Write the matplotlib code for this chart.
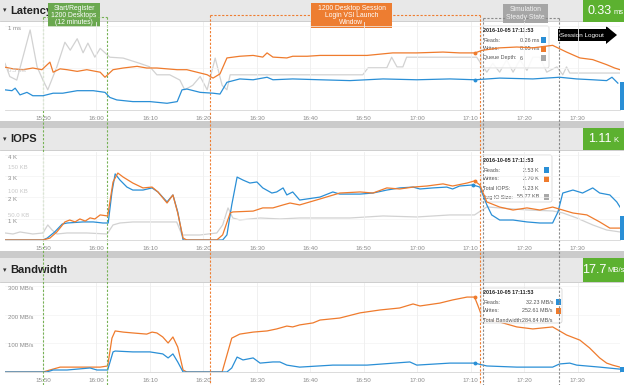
import numpy as np
import matplotlib
matplotlib.use('Agg')
import matplotlib.pyplot as plt
import matplotlib.transforms as mtransforms
from matplotlib.patches import Rectangle, FancyBboxPatch, Polygon

plt.rcParams['font.family'] = ['Liberation Sans Narrow', 'Liberation Sans', 'DejaVu Sans']

W, H = 624, 385

# time axis in minutes after 15:40
tick_minutes = [10, 20, 30, 40, 50, 60, 70, 80, 90, 100, 110]
tick_labels = ['15:50', '16:00', '16:10', '16:20', '16:30', '16:40', '16:50', '17:00', '17:10', '17:20', '17:30']
t_start, t_end = 2.9, 117.9

# Latency (ms) and queue depth
lat_read_t = [2.9, 4.2, 4.8, 5.7, 7.0, 8.1, 10.0, 11.9, 13.7, 16.4, 19.4, 21.6, 22.5, 23.8, 26.8,
              30.0, 33.2, 35.1, 36.0, 36.9, 39.4, 41.8, 43.1, 44.4, 46.8, 49.3, 51.9, 53.0, 56.7, 61.8,
              67.4, 73.6, 79.9, 86.1, 90.8, 95.4, 101.6, 106.6, 109.8, 112.8, 115.4, 116.4, 117.5]
lat_read = [0.24, 0.23, 0.26, 0.18, 0.21, 0.17, 0.17, 0.20, 0.20, 0.23, 0.23, 0.21, 0.15, 0.12, 0.10,
            0.10, 0.08, 0.10, 0.24, 0.25, 0.21, 0.20, 0.19, 0.33, 0.37, 0.36, 0.39, 0.36, 0.37, 0.36,
            0.35, 0.37, 0.36, 0.37, 0.36, 0.38, 0.37, 0.39, 0.37, 0.36, 0.35, 0.39, 0.32]
lat_write_t = [2.9, 4.4, 6.3, 8.1, 9.8, 11.3, 11.9, 13.2, 14.5, 16.4, 18.2, 20.7, 21.6, 23.1, 25.0,
               27.6, 29.4, 31.3, 33.2, 35.1, 36.9, 38.8, 40.7, 41.8, 43.1, 44.4, 46.8, 49.3, 51.1, 51.9,
               53.0, 55.6, 56.7, 59.4, 61.8, 65.5, 70.6, 75.4, 79.9, 84.8, 87.9, 90.8, 92.1, 95.4, 98.6,
               101.6, 105.3, 107.9, 110.4, 112.8, 114.1, 115.4, 116.9, 117.9]
lat_write = [0.51, 0.49, 0.48, 0.50, 0.48, 0.57, 0.45, 0.49, 0.48, 0.46, 0.48, 0.45, 0.39, 0.48, 0.50,
             0.52, 0.50, 0.50, 0.49, 0.48, 0.48, 0.45, 0.42, 0.38, 0.43, 0.62, 0.64, 0.65, 0.63, 0.68,
             0.63, 0.62, 0.64, 0.64, 0.65, 0.65, 0.65, 0.68, 0.68, 0.69, 0.68, 0.68, 0.71, 0.74, 0.75,
             0.74, 0.77, 0.69, 0.62, 0.60, 0.57, 0.54, 0.50, 0.48]
qd_t = [2.9, 3.8, 5.1, 6.6, 7.6, 8.9, 10.0, 10.9, 12.6, 14.1, 15.1, 16.4, 17.5, 18.4, 19.7,
        20.7, 21.6, 22.5, 25.0, 28.1, 30.0, 31.3, 33.7, 35.6, 36.5, 38.0, 39.4, 40.7, 42.2, 43.5,
        44.4, 45.0, 69.8, 70.8, 74.3, 75.2, 76.2, 77.3, 78.0, 91.1, 93.0, 94.1, 95.4, 96.7, 97.9,
        99.2, 100.5, 101.6, 102.9, 104.2, 106.1, 107.2, 107.9, 108.5, 117.9]
qd = [5.3, 3.8, 3.4, 6.8, 9.1, 4.9, 3.4, 2.3, 4.9, 7.7, 6.8, 8.1, 6.5, 7.6, 6.0,
      7.0, 6.5, 6.0, 5.9, 5.3, 4.9, 4.0, 4.0, 3.4, 2.3, 2.8, 3.8, 2.3, 5.9, 2.8,
      2.3, 4.0, 4.0, 4.8, 4.8, 6.0, 4.9, 4.9, 6.0, 6.0, 4.3, 5.3, 4.3, 5.7, 4.3,
      5.7, 4.5, 6.0, 6.0, 4.3, 4.9, 4.0, 4.9, 4.2, 4.2]

# IOPS (K) and average IO size (KB)
iops_read_t = [2.9, 10.0, 10.8, 12.2, 13.6, 14.5, 17.5, 19.4, 21.2, 22.2, 22.9, 23.5, 24.4, 25.7, 26.8,
               28.7, 30.4, 31.5, 33.2, 34.3, 35.2, 36.2, 43.6, 44.4, 45.3, 46.3, 47.4, 48.7, 50.0, 51.1,
               52.8, 53.7, 54.9, 55.6, 56.7, 58.0, 61.8, 64.2, 65.5, 69.3, 71.7, 74.3, 76.7, 79.2, 80.5,
               82.9, 85.5, 86.6, 87.9, 90.4, 91.7, 93.0, 93.9, 95.4, 97.9, 100.5, 102.9, 105.3, 106.3, 107.2,
               109.1, 110.9, 112.8, 114.1, 116.0, 117.3, 117.9]
iops_read = [0.00, 0.00, 0.09, 0.38, 0.75, 0.80, 0.85, 0.85, 0.80, 0.80, 2.26, 3.11, 2.82, 2.49, 2.35,
             2.35, 2.45, 2.26, 1.79, 2.12, 1.32, 0.00, 0.00, 0.24, 1.65, 2.96, 2.82, 2.68, 2.73, 2.45,
             2.21, 2.26, 2.45, 2.12, 2.26, 1.88, 2.02, 2.26, 2.16, 2.16, 2.21, 2.35, 2.45, 2.49, 2.40,
             2.45, 2.49, 2.40, 2.54, 2.59, 2.49, 1.65, 1.18, 0.94, 0.94, 0.85, 0.80, 0.80, 1.32, 2.21,
             2.35, 2.21, 2.45, 2.21, 2.12, 1.79, 1.55]
iops_write_t = [2.9, 10.0, 11.3, 12.6, 14.1, 15.0, 16.0, 16.9, 17.9, 18.8, 19.7, 20.7, 22.1, 23.1, 24.0,
                25.0, 26.8, 28.7, 30.4, 31.5, 33.2, 34.3, 35.2, 36.2, 36.9, 42.5, 43.6, 45.0, 45.5, 49.3,
                51.1, 53.0, 54.9, 56.2, 58.0, 61.8, 65.5, 69.3, 71.7, 74.3, 76.7, 79.2, 81.8, 84.8, 86.6,
                89.3, 90.7, 91.7, 93.0, 95.4, 97.9, 100.5, 102.9, 105.3, 107.2, 109.1, 111.7, 114.1, 116.0, 117.9]
iops_write = [0.00, 0.00, 0.09, 0.38, 0.85, 0.94, 0.85, 0.99, 0.89, 1.04, 0.99, 1.18, 1.13, 2.73, 3.15,
              2.96, 2.68, 2.45, 2.49, 2.26, 1.74, 2.12, 1.27, 0.09, 0.00, 0.00, 0.24, 1.27, 1.32, 1.36,
              1.51, 1.51, 1.65, 1.74, 1.65, 1.93, 2.21, 2.26, 2.21, 2.45, 2.40, 2.49, 2.54, 2.64, 2.54,
              2.68, 2.78, 2.59, 1.79, 1.55, 1.41, 1.51, 1.41, 1.55, 1.41, 1.27, 1.18, 0.85, 0.56, 0.56]
io_size_t = [2.9, 4.4, 5.7, 8.1, 10.0, 10.9, 11.7, 12.6, 14.5, 18.2, 22.0, 23.1, 24.4, 26.8, 33.2,
             35.0, 36.0, 39.3, 42.5, 43.6, 44.6, 45.5, 46.8, 50.6, 54.3, 58.0, 61.8, 67.4, 73.6, 79.9,
             86.1, 90.7, 93.0, 95.4, 100.5, 105.3, 107.2, 109.8, 112.8, 115.4, 117.9]
io_size = [14.6, 12.5, 16.7, 12.5, 14.6, 31.3, 20.8, 12.5, 14.6, 14.6, 12.5, 31.3, 35.4, 37.5, 37.5,
           37.5, 10.4, 10.4, 14.6, 31.3, 66.7, 45.8, 41.7, 45.8, 43.8, 45.8, 45.8, 45.8, 50.0, 47.9,
           52.1, 52.1, 68.8, 66.7, 62.5, 60.4, 56.3, 45.8, 31.3, 20.8, 16.7]

# Bandwidth (MB/s)
bw_read_t = [2.9, 10.7, 11.9, 14.5, 18.8, 20.1, 22.1, 23.1, 23.5, 26.8, 30.0, 32.4, 33.4, 34.3, 35.2,
             36.2, 44.4, 45.3, 46.3, 47.4, 49.3, 50.6, 53.0, 54.3, 55.6, 58.0, 64.2, 70.6, 78.6, 79.9,
             86.1, 90.7, 93.0, 98.6, 105.3, 106.6, 108.5, 109.8, 114.1, 117.9]
bw_read = [0, 0, 7, 7, 14, 7, 7, 70, 73, 70, 70, 63, 49, 63, 35,
           0, 0, 14, 52, 42, 49, 31, 35, 35, 24, 17, 24, 24, 35, 24,
           31, 31, 21, 17, 17, 28, 31, 24, 17, 10]
bw_write_t = [2.9, 10.0, 11.3, 13.2, 15.6, 18.2, 20.7, 22.1, 22.9, 23.5, 25.0, 26.8, 29.4, 30.4, 31.3,
              32.4, 33.4, 34.3, 35.2, 36.2, 36.9, 43.5, 44.4, 45.3, 46.8, 49.3, 51.9, 53.7, 55.6, 56.7,
              58.0, 60.5, 61.8, 65.5, 69.3, 73.0, 76.7, 79.2, 80.5, 84.2, 86.6, 89.3, 90.7, 91.3, 92.2,
              95.4, 98.6, 101.6, 105.3, 107.9, 110.4, 112.2, 114.1, 115.4, 116.5, 117.9]
bw_write = [0, 0, 7, 17, 17, 17, 17, 21, 118, 143, 139, 136, 132, 139, 136,
            122, 101, 122, 87, 7, 0, 0, 59, 118, 132, 139, 143, 150, 160, 157,
            164, 171, 181, 188, 206, 216, 223, 237, 230, 240, 251, 261, 261, 233, 188,
            174, 157, 150, 157, 129, 111, 84, 49, 31, 24, 17]

current_values = [0.33, 1.11, 17.7]
current_units = ['ms', 'K', 'MB/s']
hover_time = 90.75

BLUE = '#2a8fd6'
ORANGE = '#ef7b2d'
LGREY = '#d2d2d2'


def fig_rect(x0, y0, x1, y1):
    return [x0 / W, 1 - y1 / H, (x1 - x0) / W, (y1 - y0) / H]


def px(t):
    return 5 + (t - t_start) / (t_end - t_start) * 615


fig = plt.figure(figsize=(W / 100, H / 100), dpi=100, facecolor='white')

# background: header strips and separators
bg = fig.add_axes([0, 0, 1, 1])
bg.set_xlim(0, W)
bg.set_ylim(H, 0)
bg.axis('off')
for y0, h in [(0, 21), (128, 22), (258, 24)]:
    bg.add_patch(Rectangle((0, y0), W, h, fc='#e8e8e8', ec='none'))
    bg.plot([0, W], [y0 + h, y0 + h], color='#c6c6c6', lw=0.6)
for y0 in [121, 251]:
    bg.add_patch(Rectangle((0, y0), W, 7, fc='#cbcbcb', ec='none'))
for y0, title in [(10.5, 'Latency'), (139, 'IOPS'), (270, 'Bandwidth')]:
    bg.text(3, y0, '\u25be', fontsize=5, va='center', color='#333333', family=['DejaVu Sans'])
    bg.text(10, y0, title, fontsize=8, fontweight='bold', va='center', color='#222222')


def style(ax, ymax):
    ax.set_xlim(t_start, t_end)
    ax.set_ylim(0, ymax)
    ax.set_facecolor('none')
    for s in ['top', 'right', 'left']:
        ax.spines[s].set_visible(False)
    ax.spines['bottom'].set_color('#d6d6d6')
    ax.spines['bottom'].set_linewidth(0.6)
    ax.set_xticks(tick_minutes)
    ax.set_xticklabels(tick_labels)
    ax.tick_params(axis='x', length=0, labelsize=4.5, labelcolor='#8a8a8a', pad=4)
    ax.set_yticks([])
    ax.grid(axis='x', color='#eeeeee', lw=0.6)
    ax.set_axisbelow(True)


def ylabels(ax, vals, labs, color):
    tr = mtransforms.blended_transform_factory(ax.transAxes, ax.transData)
    for v, lab in zip(vals, labs):
        ax.text(0.005, v, lab, transform=tr, fontsize=4.3, color=color, va='top')
        ax.axhline(v, color='#f3f3f3', lw=0.5, zorder=0)


def hover_idx(ts):
    return [int(np.argmin(np.abs(np.array(ts) - hover_time)))]


def current_bar(ax, value):
    tr = mtransforms.blended_transform_factory(ax.transAxes, ax.transData)
    ax.add_patch(Rectangle((1.0, 0), 0.0075, value, transform=tr, fc=BLUE, ec='none', clip_on=False))


# Latency panel
ax1 = fig.add_axes(fig_rect(5, 22, 620, 110))
ax1b = ax1.twinx()
style(ax1, 1.048)
ax1b.set_ylim(0, 10)
ax1b.axis('off')
ax1.set_zorder(ax1b.get_zorder() + 1)
ax1b.plot(qd_t, qd, color=LGREY, lw=0.9)
ax1.plot(lat_write_t, lat_write, color=ORANGE, lw=0.9, marker='o', ms=1.8, markevery=hover_idx(lat_write_t))
ax1.plot(lat_read_t, lat_read, color=BLUE, lw=0.9, marker='o', ms=1.8, markevery=hover_idx(lat_read_t))
ylabels(ax1, [1.0], ['1 ms'], '#8c8c8c')
ylabels(ax1, [0.5], ['0.5 ms'], '#c8c8c8')
current_bar(ax1, current_values[0])

# IOPS panel
ax2 = fig.add_axes(fig_rect(5, 152, 620, 240))
ax2b = ax2.twinx()
style(ax2, 4.14)
ax2b.set_ylim(0, 183)
ax2b.axis('off')
ax2.set_zorder(ax2b.get_zorder() + 1)
ax2b.plot(io_size_t, io_size, color=LGREY, lw=0.9)
ax2.plot(iops_read_t, iops_read, color=BLUE, lw=0.9, marker='o', ms=1.8, markevery=hover_idx(iops_read_t))
ax2.plot(iops_write_t, iops_write, color=ORANGE, lw=0.9, marker='o', ms=1.8, markevery=hover_idx(iops_write_t))
ylabels(ax2, [4, 3, 2, 1], ['4 K', '3 K', '2 K', '1 K'], '#8c8c8c')
tr2 = mtransforms.blended_transform_factory(ax2b.transAxes, ax2b.transData)
for v, lab in zip([150, 100, 50], ['150 KB', '100 KB', '50.0 KB']):
    ax2b.text(0.005, v, lab, transform=tr2, fontsize=4.3, color='#c8c8c8', va='center')
current_bar(ax2, current_values[1])

# Bandwidth panel
ax3 = fig.add_axes(fig_rect(5, 283, 620, 372))
style(ax3, 310)
ax3.plot(bw_write_t, bw_write, color=ORANGE, lw=0.9, marker='o', ms=1.8, markevery=hover_idx(bw_write_t))
ax3.plot(bw_read_t, bw_read, color=BLUE, lw=0.9, marker='o', ms=1.8, markevery=hover_idx(bw_read_t))
ylabels(ax3, [300, 200, 100], ['300 MB/s', '200 MB/s', '100 MB/s'], '#8c8c8c')
current_bar(ax3, current_values[2])

# overlay: phase windows, call-outs, tooltips
ov = fig.add_axes([0, 0, 1, 1])
ov.set_xlim(0, W)
ov.set_ylim(H, 0)
ov.axis('off')
ov.patch.set_visible(False)

windows = [(10.0, 22.0, 17, '#77b255'), (41.2, 91.7, 15, '#ee7d31'), (92.3, 106.4, 18, '#8a8a8a')]
for a, b, top, c in windows:
    xa, xb = px(a), px(b)
    ov.plot([xa, xa], [top, H], color=c, lw=0.8, ls=(0, (2, 1.5)))
    ov.plot([xb, xb], [top, H], color=c, lw=0.8, ls=(0, (2, 1.5)))
    ov.plot([xa, xb], [top, top], color=c, lw=0.8, ls=(0, (2, 1.5)))

ov.add_patch(Rectangle((48, 3), 52, 24, fc='#6aa84f', ec='none'))
ov.text(74, 15.5, 'Start/Register\n1200 Desktops\n(12 minutes)', ha='center', va='center',
        fontsize=4.9, color='white', linespacing=1.0)
ov.add_patch(Rectangle((311, 3), 81, 25, fc='#ed7d31', ec='none'))
ov.text(351.5, 15.5, '1200 Desktop Session\nLogin VSI Launch\nWindow', ha='center', va='center',
        fontsize=4.9, color='white', linespacing=1.0)
ov.add_patch(Rectangle((503, 4), 45, 19, fc='#a6a6a6', ec='none'))
ov.text(525.5, 13.5, 'Simulation\nSteady State', ha='center', va='center',
        fontsize=4.9, color='#f4f4f4', linespacing=1.05)
ov.add_patch(Polygon([(558, 29), (606, 29), (606, 26), (617, 35), (606, 44), (606, 41), (558, 41)],
                     closed=True, fc='black', ec='none'))
ov.text(582, 35, 'Session Logout', ha='center', va='center', fontsize=4.6, color='white')

# current value boxes
for y0, h, val, unit in zip([0, 128, 258], [22, 22, 24], current_values, current_units):
    ov.add_patch(Rectangle((583, y0), 41, h, fc='#5cb130', ec='none'))
    tx = 612 if unit != 'MB/s' else 606
    ov.text(tx, y0 + h / 2, f'{val:g}', ha='right', va='center', fontsize=9, color='white')
    ov.text(tx + 1.5, y0 + h / 2 + 1, unit, ha='left', va='center', fontsize=5.5, color='white')

# tooltips
TFS = 3.9
tooltips = [
    ((481, 26, 68, 42), 31, [('Reads:', '0.26 ms', BLUE), ('Writes:', '0.65 ms', ORANGE),
                             ('Queue Depth:', '6', '#a8a8a8')], 520, 'left', 541),
    ((481, 155, 71, 47), 161, [('Reads:', '2.53 K', BLUE), ('Writes:', '2.70 K', ORANGE),
                               ('Total IOPS:', '5.23 K', None), ('Avg IO Size:', '55.77 KB', '#a8a8a8')],
     539, 'right', 544),
    ((481, 288, 81, 35), 293, [('Reads:', '32.23 MB/s', BLUE), ('Writes:', '252.61 MB/s', ORANGE),
                               ('Total Bandwidth:', '284.84 MB/s', None)], 553, 'right', 556),
]
for (x0, y0, w, h), hy, rows, vx, vha, sx in tooltips:
    ov.add_patch(FancyBboxPatch((x0, y0), w, h, boxstyle='round,pad=0,rounding_size=2',
                                fc='white', ec='#c8c8c8', lw=0.5, alpha=0.88))
    ov.text(x0 + 2, hy, '2016-10-05 17:11:53', fontsize=TFS, fontweight='bold', color='#222222', va='center')
    for i, (lab, val, sq) in enumerate(rows):
        ry = hy + 9 * (i + 1)
        ov.text(x0 + 2, ry, lab, fontsize=TFS, color='#555555', va='center')
        ov.text(vx, ry, val, fontsize=TFS, color='#555555', va='center', ha=vha)
        if sq is not None:
            ov.add_patch(Rectangle((sx, ry - 3), 5, 6, fc=sq, ec='none'))

fig.savefig('out.png', dpi=100)
